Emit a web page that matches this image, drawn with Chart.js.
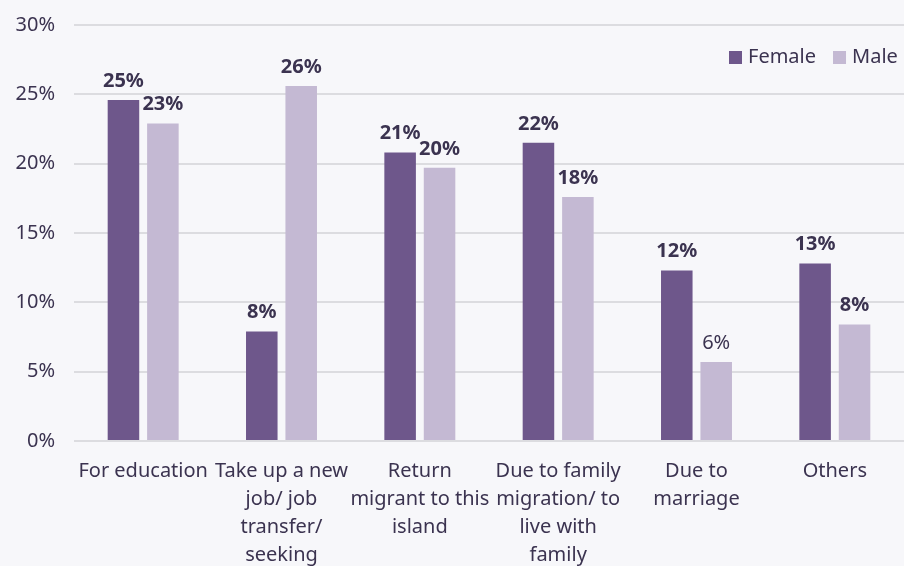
<!DOCTYPE html>
<html>
<head>
<meta charset="utf-8">
<script src="https://cdn.jsdelivr.net/npm/chart.js@4.4.1/dist/chart.umd.min.js"></script>
<style>
  html, body { margin: 0; padding: 0; background: #f7f7fa; }
  #wrap { width: 904px; height: 566px; }
</style>
</head>
<body>
<div id="wrap"><canvas id="myChart"></canvas></div>
<script>
var categories = [
  'For education',
  ['Take up a new', 'job/ job', 'transfer/', 'seeking'],
  ['Return', 'migrant to this', 'island'],
  ['Due to family', 'migration/ to', 'live with', 'family'],
  ['Due to', 'marriage'],
  'Others'
];
var female = [24.6, 7.9, 20.8, 21.5, 12.3, 12.8];
var male = [22.9, 25.6, 19.7, 17.6, 5.7, 8.4];
var yTicks = [0, 5, 10, 15, 20, 25, 30];

var textColor = '#3b3350';
var fontFamily = '"Noto Sans", sans-serif';

// value labels above bars
var barLabels = {
  id: 'barLabels',
  afterDatasetsDraw: function(chart) {
    var ctx = chart.ctx;
    ctx.save();
    ctx.fillStyle = textColor;
    ctx.textAlign = 'center';
    ctx.textBaseline = 'bottom';
    chart.data.datasets.forEach(function(ds, di) {
      chart.getDatasetMeta(di).data.forEach(function(bar, i) {
        var weight = (di === 1 && i === 4) ? 'normal' : 'bold';
        ctx.font = weight + ' 20px ' + fontFamily;
        ctx.fillText(Math.round(ds.data[i]) + '%', bar.x, bar.y - 9);
      });
    });
    ctx.restore();
  }
};

// legend drawn inside the plot, top right
var innerLegend = {
  id: 'innerLegend',
  afterDraw: function(chart) {
    var ctx = chart.ctx;
    ctx.save();
    ctx.font = '20px ' + fontFamily;
    ctx.textBaseline = 'middle';
    var x = 729, y = 57;
    chart.data.datasets.forEach(function(ds) {
      ctx.fillStyle = ds.backgroundColor;
      ctx.fillRect(x, y - 6, 13, 13);
      ctx.fillStyle = textColor;
      ctx.fillText(ds.label, x + 19, y);
      x += 19 + ctx.measureText(ds.label).width + 17;
    });
    ctx.restore();
  }
};

var bg = {
  id: 'bg',
  beforeDraw: function(chart) {
    var ctx = chart.ctx;
    ctx.save();
    ctx.fillStyle = '#f7f7fa';
    ctx.fillRect(0, 0, chart.width, chart.height);
    ctx.restore();
  }
};

var myChart = new Chart(document.getElementById('myChart'), {
  type: 'bar',
  data: {
    labels: categories,
    datasets: [{
      label: 'Female',
      data: female,
      backgroundColor: '#6e578b'
    }, {
      label: 'Male',
      data: male,
      backgroundColor: '#c4b9d3'
    }]
  },
  options: {
    responsive: true,
    maintainAspectRatio: false,
    animation: false,
    categoryPercentage: 0.57,
    barPercentage: 0.8,
    layout: {
      autoPadding: false,
      padding: { top: 25, right: 0, left: 0, bottom: 0 }
    },
    scales: {
      x: {
        grid: { display: false },
        border: { display: false },
        ticks: {
          color: textColor,
          padding: 8,
          maxRotation: 0,
          autoSkip: false,
          font: { family: fontFamily, size: 20, lineHeight: 1.4 }
        },
        afterFit: function(scale) { scale.height = 125; }
      },
      y: {
        min: 0,
        max: 30,
        afterBuildTicks: function(scale) {
          scale.ticks = yTicks.map(function(v) { return { value: v }; });
        },
        grid: { color: '#dcdce0', lineWidth: 2, drawTicks: false },
        border: { display: false },
        ticks: {
          color: textColor,
          padding: 19,
          font: { family: fontFamily, size: 20 },
          callback: function(v) { return v + '%'; }
        },
        afterFit: function(scale) {
          scale.width = 74;
          // tick padding would otherwise push the plot top down
          scale.paddingTop = 0;
          scale.paddingBottom = 0;
        }
      }
    },
    plugins: {
      legend: { display: false },
      tooltip: { enabled: false }
    }
  },
  plugins: [bg, barLabels, innerLegend]
});
</script>
</body>
</html>
